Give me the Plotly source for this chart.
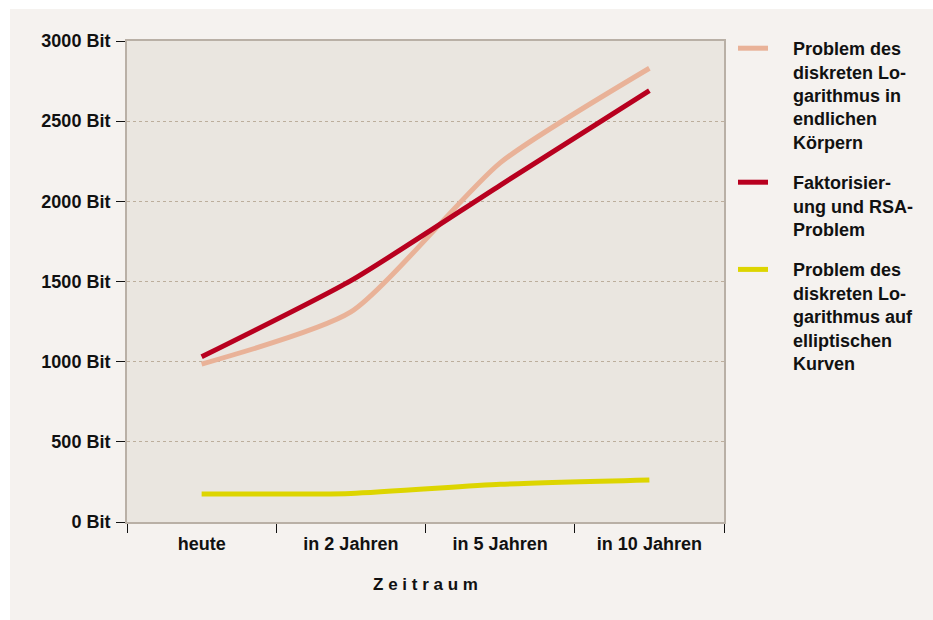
import plotly.graph_objects as go

# Zeitraum categories
zeitraum = ["heute", "in 2 Jahren", "in 5 Jahren", "in 10 Jahren"]

# Recommended key lengths (Bit) per problem class
dl_koerper = [985, 1310, 2240, 2830]
rsa = [1030, 1505, 2100, 2690]
dl_ellip = [175, 178, 235, 262]

y_ticks = [0, 500, 1000, 1500, 2000, 2500, 3000]
y_labels = [f"{v} Bit" for v in y_ticks]

legend_lines = [
    ["Problem des", "diskreten Lo-", "garithmus in", "endlichen", "Körpern"],
    ["Faktorisier-", "ung und RSA-", "Problem"],
    ["Problem des", "diskreten Lo-", "garithmus auf", "elliptischen", "Kurven"],
]
series = [dl_koerper, rsa, dl_ellip]
colors = ["#e9b298", "#b8001f", "#ddd500"]

# indent legend text a little further from the line sample
pad = "\u00a0" * 4
names = ["<br>".join(pad + s for s in lines) for lines in legend_lines]

W, H = 933, 620
ML, MR, MT, MB = 127, 209, 41, 98
pw, ph = W - ML - MR, H - MT - MB

fig = go.Figure()
for i, (nm, vals, col) in enumerate(zip(names, series, colors)):
    fig.add_trace(go.Scatter(
        x=zeitraum, y=vals, name=nm, mode="lines",
        line=dict(color=col, width=5, shape="spline", smoothing=0.6),
        legendgroup=f"g{i}",
    ))

font = "Liberation Sans, Arial, Helvetica, sans-serif"


def px_x(p):
    return (p - ML) / pw


def px_y(p):
    return (H - MB - p) / ph


# white strips along the left and top edge of the page
shapes = [
    dict(type="rect", xref="paper", yref="paper", x0=px_x(0), x1=px_x(10),
         y0=px_y(H), y1=px_y(0), fillcolor="white", line_width=0, layer="below"),
    dict(type="rect", xref="paper", yref="paper", x0=px_x(0), x1=px_x(W),
         y0=px_y(9), y1=px_y(0), fillcolor="white", line_width=0, layer="below"),
]

fig.update_layout(
    width=W, height=H,
    margin=dict(l=ML, r=MR, t=MT, b=MB),
    paper_bgcolor="#f5f2ef",
    plot_bgcolor="#eae6e0",
    font=dict(family=font, color="#111111"),
    shapes=shapes,
    showlegend=True,
    legend=dict(
        x=px_x(733), xanchor="left", y=px_y(30), yanchor="top",
        valign="top", itemwidth=30, tracegroupgap=14, maxheight=600,
        bgcolor="rgba(0,0,0,0)",
        font=dict(family=font, size=18, color="#111111", weight="bold"),
    ),
    xaxis=dict(
        type="category", tickson="boundaries", showgrid=False,
        ticks="outside", ticklen=9, tickcolor="#111111", tickwidth=1,
        showline=True, linecolor="#b9b0a6", linewidth=2, mirror=True,
        tickfont=dict(family=font, size=18, weight="bold"),
        ticklabelstandoff=4,
        title=dict(text="Z e i t r a u m",
                   font=dict(family=font, size=17, weight="bold"), standoff=26),
        range=[-0.5, 3.5],
    ),
    yaxis=dict(
        range=[0, 3000], tickvals=y_ticks, ticktext=y_labels,
        ticks="outside", ticklen=9, tickcolor="#111111", tickwidth=1,
        showline=True, linecolor="#b9b0a6", linewidth=2, mirror=True,
        showgrid=True, gridcolor="#bcae9c", gridwidth=1, griddash="3px,3px",
        zeroline=False,
        tickfont=dict(family=font, size=18, weight="bold"),
        ticklabelstandoff=2,
    ),
)

fig.write_html("out.html")
